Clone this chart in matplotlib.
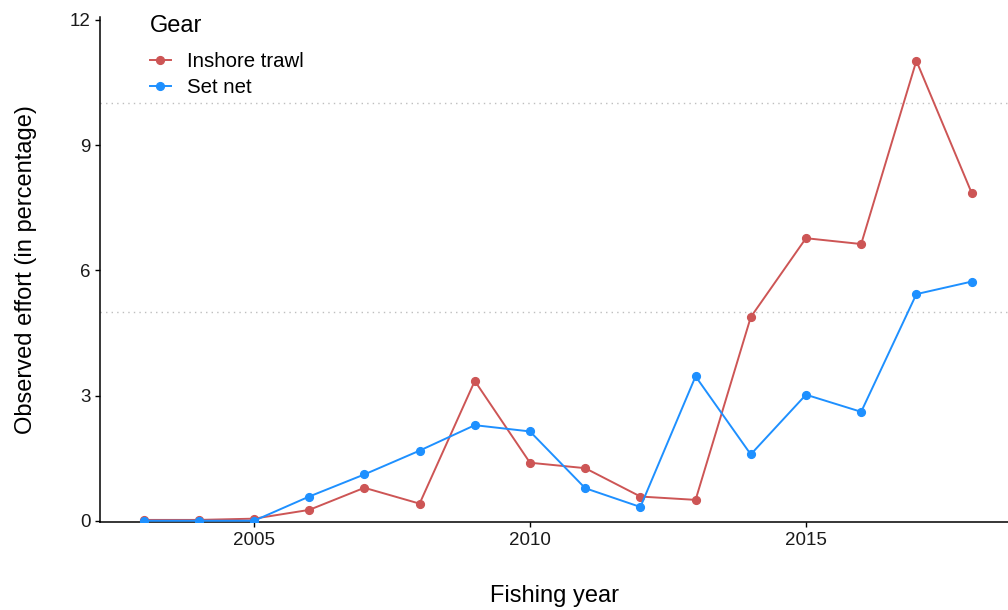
import matplotlib.pyplot as plt
from matplotlib.lines import Line2D

plt.rcParams['font.family'] = ['Liberation Sans', 'DejaVu Sans']

years = list(range(2003, 2019))
inshore_trawl = [0.02, 0.02, 0.05, 0.26, 0.79, 0.41, 3.35, 1.39, 1.26, 0.58, 0.50, 4.88, 6.77, 6.63, 11.02, 7.86]
set_net = [0.0, 0.0, 0.0, 0.58, 1.11, 1.68, 2.29, 2.14, 0.78, 0.33, 3.46, 1.59, 3.02, 2.61, 5.43, 5.73]
gear_labels = ["Inshore trawl", "Set net"]
gear_colors = ["#CD5555", "#1E90FF"]
ref_lines = [5, 10]
y_ticks = [0, 3, 6, 9, 12]
x_ticks = [2005, 2010, 2015]

fig = plt.figure(figsize=(10.08, 6.10), dpi=100)
ax = fig.add_axes([100 / 1008, 88 / 610, 908 / 1008, 505 / 610])

# dotted reference levels
for y in ref_lines:
    ax.axhline(y, color="#BEBEBE", linestyle=(0, (1, 3)), linewidth=1.0, zorder=1)

for series, label, color in zip([inshore_trawl, set_net], gear_labels, gear_colors):
    ax.plot(years, series, color=color, linewidth=1.4, marker="o", markersize=5.6,
            label=label, zorder=3)

ax.set_xlim(2002.21, 2018.66)
ax.set_ylim(-0.03, 12.07)
ax.set_xticks(x_ticks)
ax.set_yticks(y_ticks)
ax.tick_params(axis="both", direction="out", length=3.5, width=1, colors="black",
               labelsize=13.5, labelcolor="#1a1a1a", pad=3.5)
for side in ["top", "right"]:
    ax.spines[side].set_visible(False)
for side in ["left", "bottom"]:
    ax.spines[side].set_linewidth(1.1)

ax.set_xlabel("Fishing year", fontsize=17, labelpad=26)
ax.set_ylabel("Observed effort (in percentage)", fontsize=17, labelpad=23)

handles = [Line2D([0], [0], color=c, linewidth=1.4, marker="o", markersize=5.6)
           for c in gear_colors]
leg = ax.legend(handles, gear_labels, title="Gear", loc="upper left",
                bbox_to_anchor=(0.0345, 1.041), frameon=False, fontsize=14.7,
                title_fontsize=17, handlelength=1.05, handletextpad=0.8,
                labelspacing=0.36, alignment="left")
# extra room between the legend title and its entries
leg._legend_box.sep = 11

fig.savefig("out.png", dpi=100)
